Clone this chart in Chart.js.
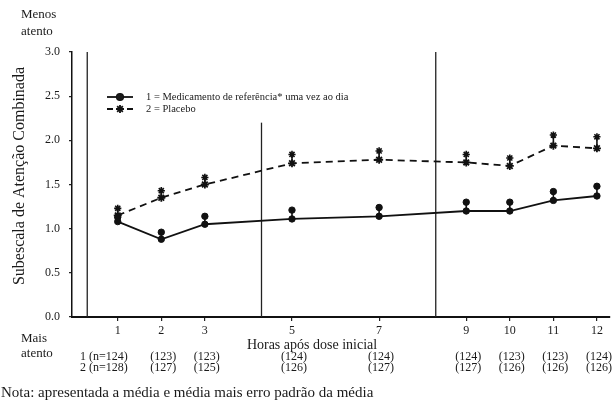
<!DOCTYPE html>
<html>
<head>
<meta charset="utf-8">
<script src="https://cdn.jsdelivr.net/npm/chart.js@4.4.0/dist/chart.umd.min.js"></script>
<style>
    html, body { margin: 0; padding: 0; background: #fff; }
    #wrap { position: relative; width: 616px; height: 407px; }
</style>
</head>
<body>
<div id="wrap"><canvas id="chart" width="616" height="407"></canvas></div>
<script>
// Data
const hours = [1, 2, 3, 5, 7, 9, 10, 11, 12];
const medMean = [1.08, 0.88, 1.05, 1.11, 1.14, 1.20, 1.20, 1.32, 1.37];
const medTop = [1.13, 0.96, 1.14, 1.21, 1.24, 1.30, 1.30, 1.42, 1.48];
const plaMean = [1.15, 1.35, 1.50, 1.74, 1.78, 1.75, 1.71, 1.94, 1.91];
const plaTop = [1.23, 1.43, 1.58, 1.84, 1.88, 1.84, 1.80, 2.06, 2.04];
const medN = ['1 (n=124)', '(123)', '(123)', '(124)', '(124)', '(124)', '(123)', '(123)', '(124)'];
const plaN = ['2 (n=128)', '(127)', '(125)', '(126)', '(127)', '(127)', '(126)', '(126)', '(126)'];
const yTicks = [0, 0.5, 1, 1.5, 2, 2.5, 3];
const dividerX = [0.3, 4.3, 8.3];
const dividerTop = [3.0, 2.2, 3.0];
const labelMed = '1 = Medicamento de referência* uma vez ao dia';
const labelPla = '2 = Placebo';

const SERIF = '"Liberation Serif", "DejaVu Serif", serif';
const INK = '#111';

function pts(ys) {
    return hours.map((h, i) => ({ x: h, y: ys[i] }));
}

// Extra drawing: dividers, error bars, legend, counts and notes
const extras = {
    id: 'extras',
    beforeDatasetsDraw(chart) {
        const ctx = chart.ctx;
        const xs = chart.scales.x, ys = chart.scales.y;
        ctx.save();
        ctx.strokeStyle = '#222';
        ctx.lineWidth = 1.3;
        dividerX.forEach((d, i) => {
            const px = xs.getPixelForValue(d);
            ctx.beginPath();
            ctx.moveTo(px, ys.getPixelForValue(dividerTop[i]));
            ctx.lineTo(px, ys.getPixelForValue(0));
            ctx.stroke();
        });
        // error bars
        ctx.strokeStyle = INK;
        ctx.lineWidth = 1.6;
        [[medMean, medTop], [plaMean, plaTop]].forEach(([m, t]) => {
            hours.forEach((h, i) => {
                const px = xs.getPixelForValue(h);
                ctx.beginPath();
                ctx.moveTo(px, ys.getPixelForValue(m[i]));
                ctx.lineTo(px, ys.getPixelForValue(t[i]));
                ctx.stroke();
            });
        });
        ctx.restore();
    },
    afterDatasetsDraw(chart) {
        const ctx = chart.ctx;
        const xs = chart.scales.x;
        ctx.save();
        ctx.fillStyle = '#1a1a1a';
        ctx.strokeStyle = INK;

        // legend
        ctx.lineWidth = 1.8;
        ctx.beginPath();
        ctx.moveTo(107, 97); ctx.lineTo(133, 97);
        ctx.stroke();
        Chart.helpers.drawPoint(ctx, { pointStyle: 'circle', radius: 3.2, borderWidth: 1 }, 120, 97);
        ctx.fill();
        ctx.setLineDash([6, 4]);
        ctx.beginPath();
        ctx.moveTo(107, 109); ctx.lineTo(133, 109);
        ctx.stroke();
        ctx.setLineDash([]);
        Chart.helpers.drawPoint(ctx, { pointStyle: 'star', radius: 4, borderWidth: 1.8 }, 120, 109);

        ctx.font = '10.5px ' + SERIF;
        ctx.textBaseline = 'middle';
        ctx.textAlign = 'left';
        ctx.fillText(labelMed, 146, 97);
        ctx.fillText(labelPla, 146, 109);

        // side notes
        ctx.font = '13px ' + SERIF;
        ctx.fillText('Menos', 21, 15);
        ctx.fillText('atento', 21, 32);
        ctx.fillText('Mais', 21, 339);
        ctx.fillText('atento', 21, 354);

        // axis titles
        ctx.textAlign = 'center';
        ctx.font = '14px ' + SERIF;
        ctx.fillText('Horas após dose inicial', 312, 345);
        ctx.save();
        ctx.translate(20, 176);
        ctx.rotate(-Math.PI / 2);
        ctx.font = '16px ' + SERIF;
        ctx.fillText('Subescala de Atenção Combinada', 0, 0);
        ctx.restore();

        // counts per hour
        ctx.font = '12px ' + SERIF;
        hours.forEach((h, i) => {
            const px = xs.getPixelForValue(h);
            if (i === 0) {
                ctx.textAlign = 'right';
                ctx.fillText(medN[i], px + 10, 357);
                ctx.fillText(plaN[i], px + 10, 368);
            } else {
                ctx.textAlign = 'center';
                ctx.fillText(medN[i], px + 2, 357);
                ctx.fillText(plaN[i], px + 2, 368);
            }
        });

        // footnote
        ctx.textAlign = 'left';
        ctx.font = '15px ' + SERIF;
        ctx.fillText('Nota: apresentada a média e média mais erro padrão da média', 1, 393);
        ctx.restore();
    }
};

new Chart(document.getElementById('chart').getContext('2d'), {
    type: 'line',
    data: {
        datasets: [
            {
                data: pts(medMean),
                borderColor: INK,
                backgroundColor: INK,
                borderWidth: 1.8,
                pointStyle: 'circle',
                pointRadius: 3.2,
                pointBorderWidth: 1,
                tension: 0
            },
            {
                data: pts(plaMean),
                borderColor: INK,
                backgroundColor: INK,
                borderWidth: 1.8,
                borderDash: [7, 5],
                pointStyle: 'star',
                pointRadius: 4,
                pointBorderWidth: 1.8,
                tension: 0
            },
            {
                data: pts(medTop),
                showLine: false,
                borderColor: INK,
                backgroundColor: INK,
                pointStyle: 'circle',
                pointRadius: 3.2,
                pointBorderWidth: 1
            },
            {
                data: pts(plaTop),
                showLine: false,
                borderColor: INK,
                backgroundColor: INK,
                pointStyle: 'star',
                pointRadius: 3.6,
                pointBorderWidth: 1.6
            }
        ]
    },
    options: {
        responsive: false,
        animation: false,
        events: [],
        layout: { padding: { left: 0, top: 52, right: 6, bottom: 0 } },
        plugins: {
            legend: { display: false },
            tooltip: { enabled: false }
        },
        scales: {
            x: {
                type: 'linear',
                min: -0.05,
                max: 12.3,
                afterBuildTicks: function(scale) {
                    scale.ticks = hours.map(v => ({ value: v }));
                },
                afterFit: function(scale) { scale.height = 90; },
                grid: { drawOnChartArea: false, drawTicks: true, tickLength: 4, color: '#222', lineWidth: 1.2 },
                border: { display: true, color: INK, width: 2 },
                ticks: {
                    autoSkip: false,
                    maxRotation: 0,
                    padding: 3,
                    color: '#1a1a1a',
                    font: { family: SERIF, size: 12 },
                    callback: function(value) { return String(value); }
                }
            },
            y: {
                min: 0,
                max: 3,
                afterBuildTicks: function(scale) {
                    scale.ticks = yTicks.map(v => ({ value: v }));
                },
                afterFit: function(scale) { scale.width = 72; },
                grid: { drawOnChartArea: false, drawTicks: true, tickLength: 3, color: '#222', lineWidth: 1.2 },
                border: { display: true, color: INK, width: 1.5 },
                ticks: {
                    padding: 9,
                    color: '#1a1a1a',
                    font: { family: SERIF, size: 12 },
                    callback: function(value) { return Number(value).toFixed(1); }
                }
            }
        }
    },
    plugins: [extras]
});
</script>
</body>
</html>
